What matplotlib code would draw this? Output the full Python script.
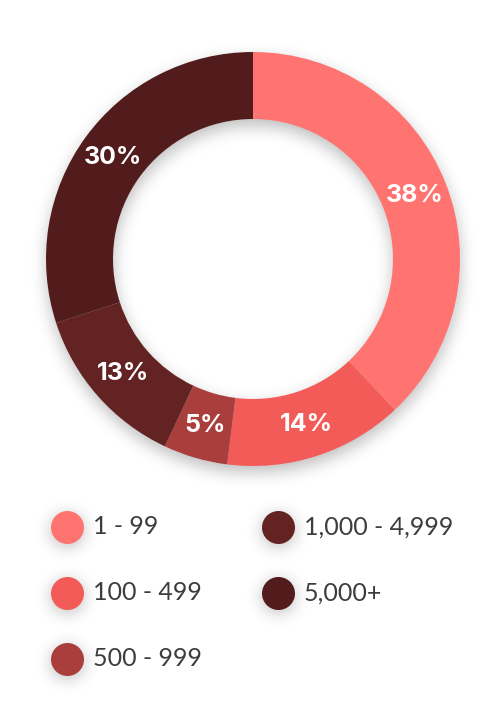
import numpy as np
import matplotlib
matplotlib.use("Agg")
import matplotlib.pyplot as plt

# data
labels = ["1 - 99", "100 - 499", "500 - 999", "1,000 - 4,999", "5,000+"]
values = [38, 14, 5, 13, 30]
colors = ["#FF7470", "#F25B57", "#A93E3D", "#632323", "#521C1C"]

W, H = 500, 706
cx, cy = 253, H - 259
r_out, r_in = 207, 140

fig = plt.figure(figsize=(W / 100, H / 100), dpi=100)
ax = fig.add_axes([0, 0, 1, 1])

# legend positions (pixels, top-left origin)
leg_x = [67, 67, 67, 278, 278]
leg_y = [527, 593, 659, 527, 593]
dot_r = 16.5


# =================================================
# SOFT SHADOW (blurred mask)
# =================================================
def blur(img, sigma):
    k = np.arange(-int(3 * sigma), int(3 * sigma) + 1)
    g = np.exp(-k**2 / (2 * sigma**2))
    g /= g.sum()
    img = np.apply_along_axis(lambda m: np.convolve(m, g, mode="same"), 0, img)
    img = np.apply_along_axis(lambda m: np.convolve(m, g, mode="same"), 1, img)
    return img


yy, xx = np.mgrid[0:H, 0:W]
dy = 6
d = np.hypot(xx - cx, yy - (259 + dy))
mask = ((d <= r_out) & (d >= r_in)).astype(float)
for lx, ly in zip(leg_x, leg_y):
    mask += (np.hypot(xx - lx, yy - (ly + 3)) <= dot_r).astype(float)
shadow = blur(mask, 8)
rgba = np.zeros((H, W, 4))
rgba[..., 3] = np.clip(shadow, 0, 1) * 0.26
ax.imshow(rgba, extent=(0, W, 0, H), origin="upper", zorder=0)

# =================================================
# DONUT
# =================================================
wedges, texts, autotexts = ax.pie(
    values,
    colors=colors,
    startangle=90,
    counterclock=False,
    center=(cx, cy),
    radius=r_out,
    wedgeprops=dict(width=r_out - r_in, linewidth=0),
    autopct=lambda p: f"{p:.0f}%",
    pctdistance=(r_out + r_in) / 2 / r_out,
    textprops=dict(color="white", fontsize=18, fontweight="bold",
                   family="Inter"),
)
for w in wedges:
    w.set_zorder(2)
for t in autotexts:
    t.set_zorder(3)

# =================================================
# LEGEND
# =================================================
for lab, col, lx, ly in zip(labels, colors, leg_x, leg_y):
    ax.scatter(lx, H - ly, s=(dot_r * 2 * 0.72) ** 2, color=col,
               linewidths=0, zorder=2)
    ax.text(lx + 26, H - ly, lab, fontsize=18, color="#3d3d3d",
            family="Lato", va="center", ha="left", zorder=3)

ax.set_xlim(0, W)
ax.set_ylim(0, H)
ax.set_aspect("auto")
ax.axis("off")

fig.savefig("out.png", dpi=100, facecolor="white")
